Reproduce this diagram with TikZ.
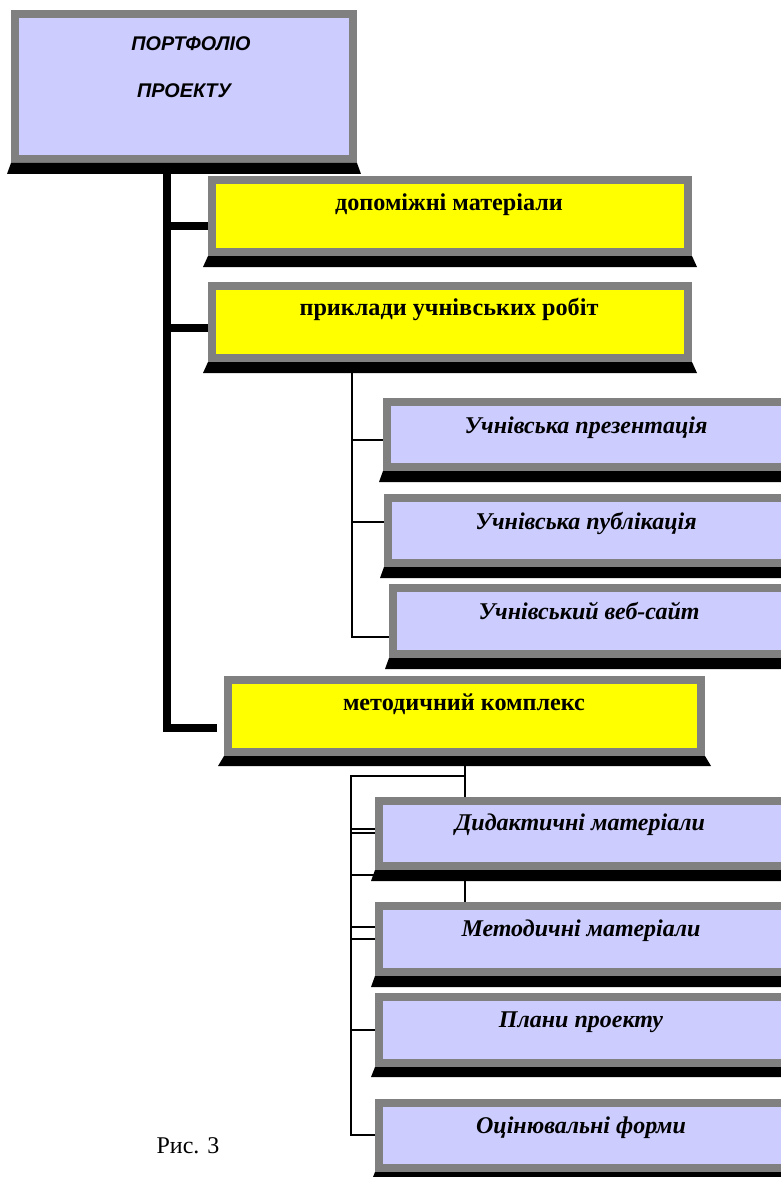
\documentclass[tikz,border=0pt]{standalone}
\usepackage{fontspec}
\setmainfont{Liberation Serif}
\newfontfamily\arialf{Liberation Sans}
\usetikzlibrary{backgrounds}
\definecolor{peri}{HTML}{CCCCFF}
\definecolor{frame}{HTML}{808080}
\definecolor{lemonc}{HTML}{FFFF00}
\tikzset{
  x=1pt,y=-1pt,
  panel/.style={draw=frame,line width=8pt,rectangle,inner sep=0pt,anchor=north west},
  lilac/.style={panel,fill=peri},
  lemon/.style={panel,fill=lemonc},
  rootlab/.style={anchor=base,inner sep=0pt,font=\arialf\bfseries\itshape\fontsize{19.8}{22}\selectfont},
  yellowlab/.style={anchor=base,inner sep=0pt,font=\bfseries\fontsize{24.2}{26}\selectfont},
  sublab/.style={anchor=base,inner sep=0pt,font=\bfseries\itshape\fontsize{24}{26}\selectfont},
  plainlab/.style={anchor=base,inner sep=0pt,font=\fontsize{24}{26}\selectfont},
  thick line/.style={draw=black,line width=8pt},
  thin line/.style={draw=black,line width=2.4pt},
}
% name, x1, y1, x2, y2, style, shadow height, shadow offset
\newcommand{\panelbox}[8]{%
  \pgfmathsetmacro{\pw}{#4-#2-8}\pgfmathsetmacro{\ph}{#5-#3-8}%
  \node[#6,minimum width=\pw pt,minimum height=\ph pt] (#1) at (#2,#3) {};
  \path[fill=black] (#1.south west) -- ++(-#8,#7) -- ([xshift=#8 pt,yshift=-#7 pt]#1.south east) -- (#1.south east) -- cycle;
}
\begin{document}
\begin{tikzpicture}
\useasboundingbox (0,0) rectangle (781,1177);
\clip (0,0) rectangle (781,1177);
\panelbox{root}{11}{10}{357}{163}{lilac}{11}{4}
\panelbox{dop}{208}{176}{692}{256}{lemon}{11}{5}
\panelbox{pry}{208}{282}{692}{362}{lemon}{11}{5}
\panelbox{upr}{383}{398}{790}{471}{lilac}{11}{4}
\panelbox{upu}{384}{494}{790}{567}{lilac}{11}{4}
\panelbox{uve}{389}{584}{790}{658}{lilac}{11}{4}
\panelbox{met}{224}{676}{705}{756}{lemon}{10}{6}
\panelbox{dyd}{375}{797}{790}{870}{lilac}{11}{4}
\panelbox{mma}{375}{902}{790}{976}{lilac}{11}{4}
\panelbox{pla}{375}{993}{790}{1067}{lilac}{10}{4}
\panelbox{ots}{375}{1099}{790}{1172}{lilac}{10}{4}

\node[rootlab] (t0) at (191,51) {ПОРТФОЛІО};
\node[rootlab] (t0b) at (184,98) {ПРОЕКТУ};
\node[yellowlab] (t1) at (449,211) {допоміжні матеріали};
\node[yellowlab] (t2) at (449,315) {приклади учнівських робіт};
\node[sublab] (t3) at (586,433) {Учнівська презентація};
\node[sublab] (t4) at (586,529) {Учнівська публікація};
\node[sublab] (t5) at (589,619) {Учнівський веб-сайт};
\node[yellowlab] (t6) at (464,710) {методичний комплекс};
\node[sublab] (t7) at (580,830) {Дидактичні матеріали};
\node[sublab] (t8) at (581,936) {Методичні матеріали};
\node[sublab] (t9) at (581,1027) {Плани проекту};
\node[sublab] (t10) at (581,1133) {Оцінювальні форми};
\node[plainlab] (cap) at (188,1153) {Рис. 3};

\coordinate (rootfoot) at (167,174);
\coordinate (thickend) at (167,728);
\coordinate (prfoot) at (352,373);
\coordinate (prend) at (352,637);
\coordinate (mfoot) at (465,766);
\coordinate (mknee) at (465,776);
\coordinate (mleft) at (351,776);
\coordinate (mend) at (351,1135);
\coordinate (dydtop) at (465,797);
\coordinate (dydfoot) at (465,881);
\coordinate (mmatop) at (465,902);

\begin{scope}[on background layer]
\draw[thick line] (rootfoot) -- (thickend) -- (217,728);
\draw[thick line] (rootfoot |- 0,226) -- (dop.west |- 0,226);
\draw[thick line] (rootfoot |- 0,328) -- (pry.west |- 0,328);
\draw[thin line] (prfoot) -- (prend) -- (uve.west |- prend);
\draw[thin line] (prfoot |- 0,440) -- (upr.west |- 0,440);
\draw[thin line] (prfoot |- 0,522) -- (upu.west |- 0,522);
\draw[thin line] (mfoot) -- (dydtop);
\draw[thin line] (dydfoot) -- (mmatop);
\draw[thin line] (mknee) -- (mleft) -- (mend) -- (ots.west |- mend);
\foreach \yy/\tgt in {829/dyd,833/dyd,875/dyd,927/mma,939/mma,1030/pla}
  \draw[thin line] (mleft |- 0,\yy) -- (\tgt.west |- 0,\yy);
\end{scope}
\end{tikzpicture}
\end{document}
